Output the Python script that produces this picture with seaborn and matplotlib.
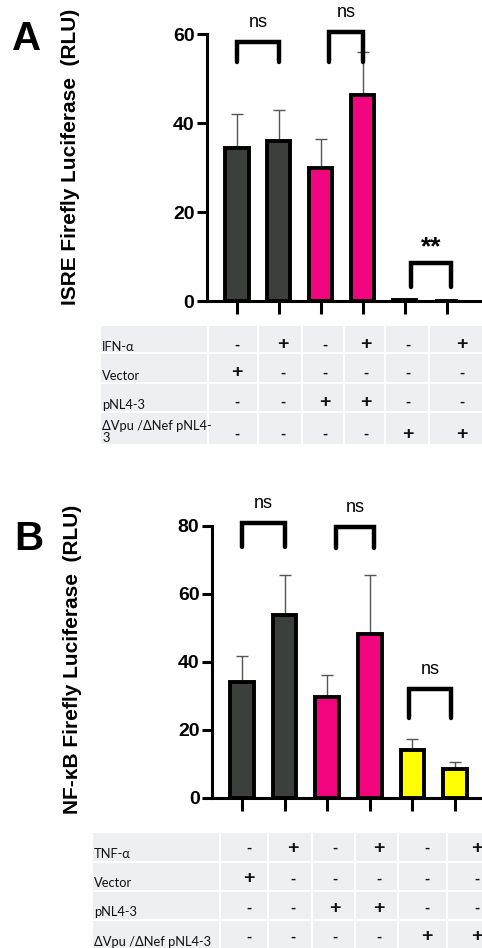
import matplotlib
matplotlib.use("Agg")
import matplotlib.pyplot as plt
import seaborn as sns
import pandas as pd

# ---- data ----
conditions = ["c1", "c2", "c3", "c4", "c5", "c6"]

isre_means = [34.4, 36.0, 30.0, 46.3, 0.3, 0.1]
isre_err = [7.6, 7.0, 6.4, 9.7, 0.0, 0.0]
isre_colors = ["#3b403d", "#3b403d", "#f2047e", "#f2047e", "#3b403d", "#3b403d"]
isre_pairs = [(0, 1), (2.2, 3.0), (4.15, 5.1)]
isre_bracket_top = [58.2, 60.4, 8.5]
isre_bracket_low = [53.7, 53.7, 3.2]
isre_stars = ["ns", "ns", "**"]

nfkb_means = [34.1, 53.8, 29.7, 48.2, 14.1, 8.5]
nfkb_err = [7.7, 11.8, 6.5, 17.4, 3.3, 2.1]
nfkb_colors = ["#3b403d", "#3b403d", "#f2047e", "#f2047e", "#ffff00", "#ffff00"]
nfkb_pairs = [(0, 1), (2.2, 3.1), (3.92, 4.9)]
nfkb_bracket_top = [80.9, 79.7, 32.0]
nfkb_bracket_low = [73.8, 73.5, 23.5]
nfkb_stars = ["ns", "ns", "ns"]

rows_a = ["IFN-\u03b1", "Vector", "pNL4-3", "\u0394Vpu /\u0394Nef pNL4-\n3"]
rows_b = ["TNF-\u03b1", "Vector", "pNL4-3", "\u0394Vpu /\u0394Nef pNL4-3"]
signs_a = [["-", "+", "-", "+", "-", "+"],
           ["+", "-", "-", "-", "-", "-"],
           ["-", "-", "+", "+", "-", "-"],
           ["-", "-", "-", "-", "+", "+"]]
signs_b = signs_a

sns.set_theme(style="ticks")
plt.rcParams["font.family"] = ["Liberation Sans", "DejaVu Sans"]
for key in ["text.color", "axes.labelcolor", "xtick.color", "ytick.color", "axes.edgecolor"]:
    plt.rcParams[key] = "black"

W, H = 482, 948
fig = plt.figure(figsize=(W / 100, H / 100), dpi=100)


def px_axes(left, top, right, bottom):
    return fig.add_axes([left / W, 1 - bottom / H, (right - left) / W, (bottom - top) / H])


def draw_panel(ax, means, errs, colors, ymax, step, xlim, pairs, tops, lows, stars,
               ylabel, label_xy):
    df = pd.DataFrame({"cond": conditions, "val": means})
    sns.barplot(data=df, x="cond", y="val", hue="cond", palette=colors, width=0.55,
                saturation=1, edgecolor="black", linewidth=2.8, legend=False, ax=ax,
                zorder=2)
    ax.errorbar(range(len(means)), means, yerr=[[0] * len(errs), errs], fmt="none",
                ecolor="#555555", elinewidth=1.0, capsize=4, capthick=1.0, zorder=1)
    ax.set_ylim(0, ymax)
    ax.set_yticks(range(0, ymax + 1, step))
    ax.set_xlim(*xlim)
    ax.set_xticks(range(len(means)))
    ax.set_xticklabels([])
    ax.set_xlabel("")
    ax.set_ylabel(ylabel, fontsize=15, fontweight="bold")
    ax.yaxis.set_label_coords(*label_xy)
    for s in ["top", "right"]:
        ax.spines[s].set_visible(False)
    for s in ["left", "bottom"]:
        ax.spines[s].set_linewidth(2.2)
    ax.tick_params(axis="y", length=7, width=2.2, labelsize=14, pad=2)
    ax.tick_params(axis="x", length=9, width=2.2)
    for lab in ax.get_yticklabels():
        lab.set_fontweight("bold")
    for (x0, x1), t, lo, s in zip(pairs, tops, lows, stars):
        ax.plot([x0, x0, x1, x1], [lo, t, t, lo], color="black", lw=3.2,
                solid_joinstyle="miter", clip_on=False)
        if s == "ns":
            ax.annotate(s, ((x0 + x1) / 2, t), xytext=(0, 8), textcoords="offset points",
                        ha="center", va="bottom", fontsize=13, annotation_clip=False)
        else:
            ax.annotate(s, ((x0 + x1) / 2, t), xytext=(0, 3), textcoords="offset points",
                        ha="center", va="bottom", fontsize=19, fontweight="bold",
                        annotation_clip=False)


ax_a = px_axes(207, 34, 480, 301)
draw_panel(ax_a, isre_means, isre_err, isre_colors, 60, 20, (-0.714, 5.79),
           isre_pairs, isre_bracket_top, isre_bracket_low, isre_stars,
           "ISRE Firefly Luciferase  (RLU)", (-0.465, 0.54))

ax_b = px_axes(212, 526, 482, 798)
draw_panel(ax_b, nfkb_means, nfkb_err, nfkb_colors, 80, 20, (-0.70, 5.63),
           nfkb_pairs, nfkb_bracket_top, nfkb_bracket_low, nfkb_stars,
           "NF-\u03baB Firefly Luciferase  (RLU)", (-0.48, 0.51))

# ---- overlay for tables and panel letters (pixel coordinates) ----
ov = fig.add_axes([0, 0, 1, 1], zorder=-1)
ov.set_xlim(0, W)
ov.set_ylim(H, 0)
ov.axis("off")

fig.text(27 / W, 1 - 39 / H, "A", fontsize=29, fontweight="bold", ha="center", va="center")
fig.text(29 / W, 1 - 539 / H, "B", fontsize=29, fontweight="bold", ha="center", va="center")


def draw_table(row_y, col_x, sign_x, labels, signs, sign_y, label_y):
    for r in range(len(row_y) - 1):
        for c in range(len(col_x) - 1):
            ov.add_patch(plt.Rectangle((col_x[c], row_y[r]), col_x[c + 1] - col_x[c],
                                       row_y[r + 1] - row_y[r], facecolor="#edeff3",
                                       edgecolor="white", lw=1.5))
        ov.text(col_x[0] + 2, label_y[r], labels[r], ha="left", va="baseline",
                fontsize=9.3, family="Lato", color="#111111", linespacing=1.05)
        for c, s in enumerate(signs[r]):
            ov.text(sign_x[c], sign_y[r], s, ha="center", va="center",
                    fontsize=14 if s == "+" else 11, fontweight="bold", color="#111111")


draw_table([325, 353, 383, 412, 445], [100, 208, 258, 302, 344, 385, 429, 484],
           [237, 283, 325, 366, 408, 462], rows_a, signs_a,
           [345, 373, 402, 434], [351, 380, 409, 442])
draw_table([832, 862, 891, 920, 952], [92, 220, 268, 312, 355, 398, 447, 484],
           [249, 293, 335, 379, 427, 477], rows_b, signs_b,
           [848, 879, 908, 937], [858, 887, 916, 946])

fig.savefig("out.png", dpi=100)
